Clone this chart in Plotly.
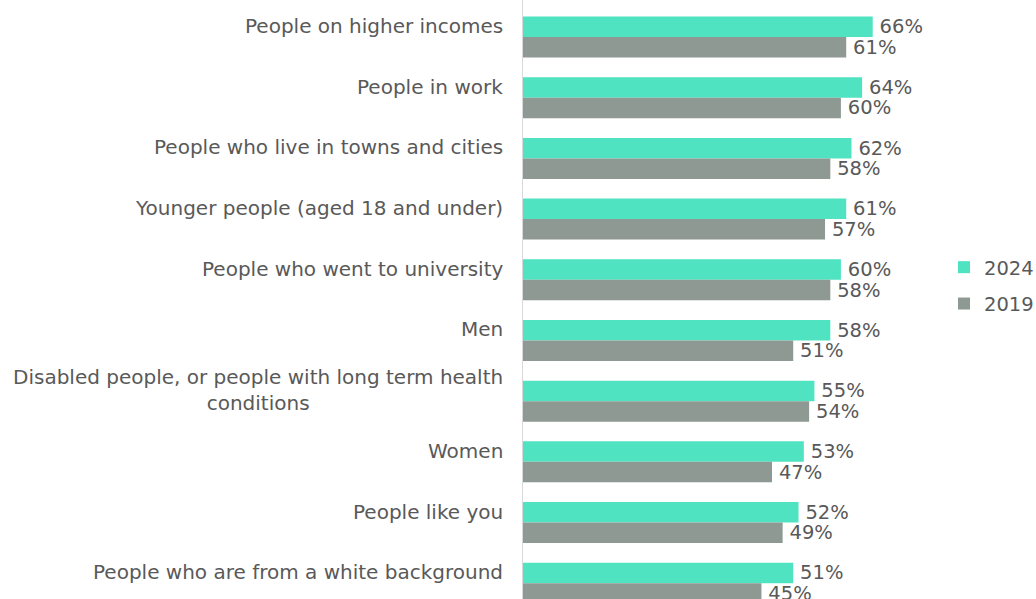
import plotly.graph_objects as go

categories = [
    "People on higher incomes",
    "People in work",
    "People who live in towns and cities",
    "Younger people (aged 18 and under)",
    "People who went to university",
    "Men",
    "Disabled people, or people with long term health<br>conditions",
    "Women",
    "People like you",
    "People who are from a white background",
]
values_2024 = [66, 64, 62, 61, 60, 58, 55, 53, 52, 51]
values_2019 = [61, 60, 58, 57, 58, 51, 54, 47, 49, 45]

TEAL = "#50E3C2"
GRAY = "#8F9993"
TEXT = "#595959"
FONT = "DejaVu Sans"

fig = go.Figure()
for name, vals, col in [("2024", values_2024, TEAL), ("2019", values_2019, GRAY)]:
    fig.add_trace(go.Bar(
        name=name, y=categories, x=vals, orientation="h",
        marker=dict(color=col, line=dict(width=0)),
        text=[f"\u2009{v}%" for v in vals], textposition="outside",
        textfont=dict(family=FONT, size=19.5, color=TEXT),
        constraintext="none",
        cliponaxis=False, legendgroup=name,
    ))

for c in categories:
    fig.add_annotation(
        x=0, xref="paper", y=c, yref="y", text=c, showarrow=False,
        xanchor="right", yanchor="middle", align="center", xshift=-18, yshift=11,
        font=dict(family=FONT, size=20, color=TEXT),
    )

fig.update_layout(
    width=1036, height=599,
    margin=dict(l=523, r=96, t=0, b=0),
    paper_bgcolor="white", plot_bgcolor="white",
    barmode="group", bargap=0.324, bargroupgap=0,
    font=dict(family=FONT, size=20, color=TEXT),
    xaxis=dict(range=[0, 78.7], showgrid=False, zeroline=False, showticklabels=False, showline=False),
    yaxis=dict(range=[9.26, -0.61], showgrid=False, zeroline=False, showticklabels=False,
               showline=True, linecolor="#D9D9D9", linewidth=1, ticks=""),
    legend=dict(xref="container", yref="container", x=944/1036, y=1-248/599,
                xanchor="left", yanchor="top", tracegroupgap=8, traceorder="grouped",
                font=dict(family=FONT, size=19.5, color=TEXT), bgcolor="rgba(0,0,0,0)"),
    showlegend=True,
)

fig.write_html("out.html")
